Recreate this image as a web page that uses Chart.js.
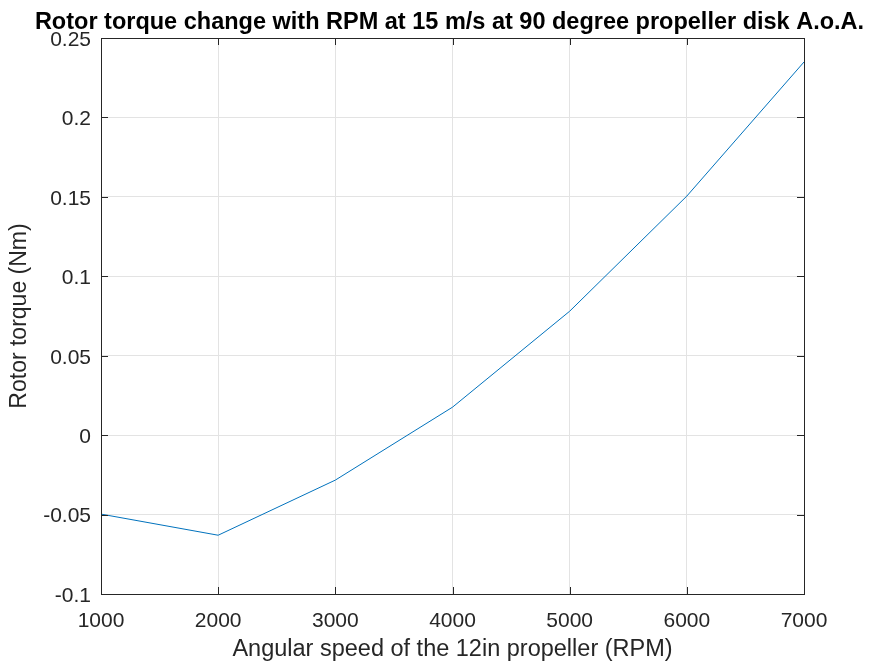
<!DOCTYPE html>
<html>
<head>
<meta charset="utf-8">
<script src="https://cdn.jsdelivr.net/npm/chart.js@4"></script>
<style>
  html, body { margin: 0; padding: 0; background: #ffffff; }
  #wrap { width: 872px; height: 664px; }
</style>
</head>
<body>
<div id="wrap"><canvas id="myChart" width="872" height="664"></canvas></div>
<script>
const rpm = [1000, 2000, 3000, 4000, 5000, 6000, 7000];
const torque = [-0.0497, -0.063, -0.0283, 0.0176, 0.078, 0.1505, 0.2349];

const xTicks = [1000, 2000, 3000, 4000, 5000, 6000, 7000];
const yTicks = [-0.1, -0.05, 0, 0.05, 0.1, 0.15, 0.2, 0.25];

const titleText = "Rotor torque change with RPM at 15 m/s at 90 degree propeller disk A.o.A.";
const axisColor = "#262626";
const fontFam = "'Liberation Sans', Arial, Helvetica, sans-serif";

// MATLAB style inward ticks on all four sides, plus the box and the title
const matlabAxes = {
    id: "matlabAxes",
    afterDraw(chart) {
        const {ctx, chartArea, scales} = chart;
        const len = 7;
        ctx.save();
        ctx.strokeStyle = axisColor;
        ctx.lineWidth = 1;
        ctx.beginPath();
        xTicks.forEach(v => {
            const px = Math.round(scales.x.getPixelForValue(v)) + 0.5;
            ctx.moveTo(px, chartArea.bottom);
            ctx.lineTo(px, chartArea.bottom - len);
            ctx.moveTo(px, chartArea.top);
            ctx.lineTo(px, chartArea.top + len);
        });
        yTicks.forEach(v => {
            const py = Math.round(scales.y.getPixelForValue(v)) + 0.5;
            ctx.moveTo(chartArea.left, py);
            ctx.lineTo(chartArea.left + len, py);
            ctx.moveTo(chartArea.right, py);
            ctx.lineTo(chartArea.right - len, py);
        });
        ctx.stroke();
        ctx.strokeRect(chartArea.left + 0.5, chartArea.top + 0.5,
            chartArea.right - chartArea.left, chartArea.bottom - chartArea.top);

        // title centred over the plot box
        ctx.fillStyle = "#000000";
        ctx.font = "bold 23.5px " + fontFam;
        ctx.textAlign = "center";
        ctx.textBaseline = "alphabetic";
        ctx.fillText(titleText, (chartArea.left + chartArea.right) / 2 - 3, 29);
        ctx.restore();
    }
};

const data = {
    datasets: [{
        data: rpm.map((r, i) => ({x: r, y: torque[i]})),
        borderColor: "#0072BD",
        borderWidth: 1,
        pointRadius: 0,
        tension: 0,
        fill: false
    }]
};

const config = {
    type: "line",
    data: data,
    options: {
        responsive: false,
        animation: false,
        events: [],
        layout: {
            padding: {top: 38, right: 68, bottom: 0, left: 0}
        },
        scales: {
            x: {
                type: "linear",
                min: 1000,
                max: 7000,
                afterBuildTicks: (s) => { s.ticks = xTicks.map(v => ({value: v})); },
                afterFit: (s) => { s.height = 70; },
                grid: {
                    color: "#e3e3e3",
                    drawTicks: false
                },
                border: {display: false},
                ticks: {
                    color: axisColor,
                    padding: 15,
                    maxRotation: 0,
                    font: {family: fontFam, size: 21},
                    callback: (v) => String(v)
                },
                title: {
                    display: true,
                    text: "Angular speed of the 12in propeller (RPM)",
                    color: axisColor,
                    padding: {top: 0, bottom: 0},
                    font: {family: fontFam, size: 23.5}
                }
            },
            y: {
                type: "linear",
                min: -0.1,
                max: 0.25,
                afterBuildTicks: (s) => { s.ticks = yTicks.map(v => ({value: v})); },
                afterFit: (s) => { s.width = 101; },
                grid: {
                    color: "#e3e3e3",
                    drawTicks: false
                },
                border: {display: false},
                ticks: {
                    color: axisColor,
                    padding: 10,
                    labelOffset: 2,
                    font: {family: fontFam, size: 21},
                    callback: (v) => String(Number(v.toFixed(2)))
                },
                title: {
                    display: true,
                    text: "Rotor torque (Nm)",
                    color: axisColor,
                    padding: {top: 6, bottom: 0},
                    font: {family: fontFam, size: 23}
                }
            }
        },
        plugins: {
            legend: {display: false},
            tooltip: {enabled: false},
            title: {display: false}
        }
    },
    plugins: [matlabAxes]
};

const myChart = new Chart(document.getElementById("myChart"), config);
</script>
</body>
</html>
